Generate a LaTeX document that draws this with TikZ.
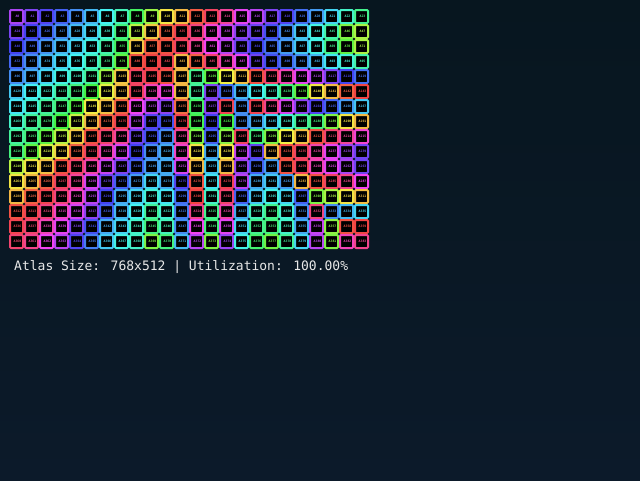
\documentclass[tikz,border=0pt]{standalone}
\usepackage{fontspec}
\newfontfamily\atlasmono{DejaVu Sans Mono}
\usepackage{tikz}
\definecolor{bgtop}{HTML}{07161F}
\definecolor{bgbot}{HTML}{0C1A2A}
\definecolor{captxt}{HTML}{E8E8E8}

\begin{document}
\begin{tikzpicture}[x=1pt,y=-1pt,
  tile/.style={line width=2pt,rounded corners=1pt,fill=black},
  tilelab/.style={font=\fontsize{3.2}{4}\selectfont\atlasmono\bfseries,inner sep=0pt}]
\useasboundingbox (0,0) rectangle (640,480);
\shade[top color=bgtop,bottom color=bgbot] (0,0) rectangle (640,480);
% tiles: one line of hues per atlas row
\foreach \hues [count=\r from 0] in {
  {275,260,245,230,215,200,180,160,130,90,55,40,8,350,330,295,280,260,245,225,210,190,165,145},
  {258,240,228,215,200,190,170,140,80,45,10,355,340,310,285,265,255,235,215,195,175,155,100,85},
  {240,228,212,200,190,175,155,130,45,10,5,350,330,300,280,255,240,225,210,195,175,145,110,85},
  {228,215,200,190,180,165,145,110,5,0,355,40,10,345,320,295,255,235,225,215,200,185,170,155},
  {215,205,190,175,165,150,90,45,350,355,5,40,145,110,60,42,5,345,320,295,280,260,240,225},
  {195,180,170,155,140,120,65,42,350,320,305,40,150,260,225,200,180,165,140,110,55,40,10,0},
  {185,170,150,140,115,58,42,10,300,280,265,15,130,265,355,215,355,335,290,265,245,230,210,195},
  {165,150,140,120,75,40,10,355,280,245,235,355,125,240,120,215,205,190,170,150,140,100,55,40},
  {150,140,110,80,45,5,345,330,255,235,215,330,100,230,95,350,140,100,60,42,5,345,330,310},
  {140,110,70,50,10,350,320,290,240,215,205,315,55,205,55,285,250,40,5,350,325,295,270,255},
  {80,55,42,5,345,325,285,260,230,210,205,290,40,195,40,270,230,210,5,350,320,295,275,255},
  {55,40,10,350,330,290,255,230,210,190,205,245,5,185,355,280,205,195,210,40,5,350,335,300},
  {40,10,355,340,315,280,240,205,190,170,185,225,0,165,345,230,195,175,190,230,100,85,55,42},
  {5,355,340,315,290,265,230,200,180,150,170,220,335,145,325,205,160,145,170,215,340,215,200,190},
  {355,345,320,295,260,235,205,190,165,140,160,215,300,140,295,190,145,140,165,205,285,95,5,0},
  {345,335,300,280,245,220,195,175,165,100,140,200,280,100,270,175,135,105,150,190,280,100,320,335}}{
  \foreach \h [count=\c from 0] in \hues {
    \definecolor{tilehsb}{Hsb}{\h,0.72,0.95}
    \colorlet{tilec}[rgb]{tilehsb}
    \pgfmathtruncatemacro{\id}{\r*24+\c}
    \draw[tile,draw=tilec] (10+15*\c,10+15*\r) rectangle ++(13,13);
    \node[tilelab,text=tilec] (tile-\r-\c) at (17.5+15*\c,16.5+15*\r) {A\id};
  }}
\node[anchor=base west,text=captxt,inner sep=0pt,font=\fontsize{13}{15}\selectfont\atlasmono] (info) at (14,270.5) {Atlas Size: 768x512 | Utilization: 100.00\%};
\end{tikzpicture}
\end{document}
